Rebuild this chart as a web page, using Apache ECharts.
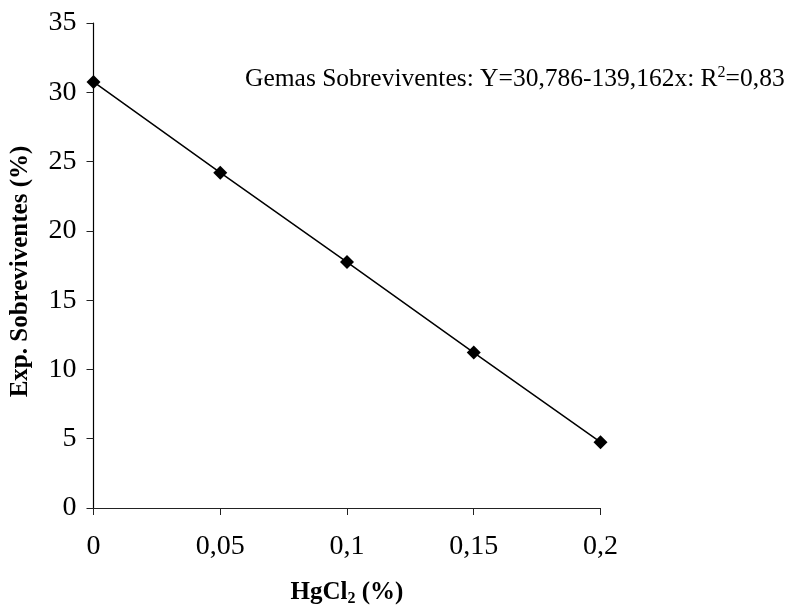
<!DOCTYPE html>
<html>
<head>
<meta charset="utf-8">
<script src="https://cdn.jsdelivr.net/npm/echarts@6/dist/echarts.min.js"></script>
<style>
  html, body { margin: 0; padding: 0; background: #fff; }
  #chart { width: 811px; height: 612px; }
</style>
</head>
<body>
<div id="chart"></div>
<script>
// HgCl2 concentration (%) and surviving explants (%)
const hgcl2 = [0, 0.05, 0.1, 0.15, 0.2];
const survivors = [30.75, 24.2, 17.75, 11.22, 4.75];
const xTicks = [0, 0.05, 0.1, 0.15, 0.2];
const yTicks = [0, 5, 10, 15, 20, 25, 30, 35];

const serif = '"Liberation Serif", "Times New Roman", serif';
const comma = v => String(v).replace('.', ',');

const chart = echarts.init(document.getElementById('chart'), null, { renderer: 'canvas' });

chart.setOption({
  backgroundColor: '#ffffff',
  animation: false,
  grid: { left: 93.5, right: 210.5, top: 23, bottom: 95, containLabel: false },
  xAxis: {
    type: 'value',
    min: xTicks[0],
    max: xTicks[xTicks.length - 1],
    interval: 0.05,
    name: '{b|HgCl}{s|2}{b| (%)}',
    nameLocation: 'middle',
    nameGap: 71,
    nameTextStyle: {
      rich: {
        b: { fontFamily: serif, fontWeight: 'bold', fontSize: 25, color: '#000' },
        s: { fontFamily: serif, fontWeight: 'bold', fontSize: 16, color: '#000', verticalAlign: 'bottom', padding: [12, 0, 0, 0] }
      }
    },
    axisLine: { lineStyle: { color: '#222', width: 1.2 } },
    axisTick: { show: true, inside: false, length: 7, lineStyle: { color: '#222' } },
    axisLabel: {
      margin: 25,
      fontFamily: serif,
      fontSize: 28,
      color: '#000',
      formatter: v => comma(+v.toFixed(2))
    },
    splitLine: { show: false }
  },
  yAxis: {
    type: 'value',
    min: yTicks[0],
    max: yTicks[yTicks.length - 1],
    interval: 5,
    name: 'Exp. Sobreviventes (%)',
    nameLocation: 'middle',
    nameGap: 60,
    nameRotate: 90,
    nameTextStyle: { fontFamily: serif, fontWeight: 'bold', fontSize: 25, color: '#000', padding: [0, 12, 0, 0] },
    axisLine: { show: true, lineStyle: { color: '#000', width: 1.2 } },
    axisTick: { show: true, inside: false, length: 7, lineStyle: { color: '#222' } },
    axisLabel: { margin: 17, fontFamily: serif, fontSize: 28, color: '#000' },
    splitLine: { show: false }
  },
  graphic: [{
    type: 'text',
    left: 245,
    top: 65,
    style: {
      text: '{t|Gemas Sobreviventes: Y=30,786-139,162x: R}{sup|2}{t|=0,83}',
      rich: {
        t: { fontFamily: serif, fontSize: 25.5, fill: '#000' },
        sup: { fontFamily: serif, fontSize: 16, fill: '#000', padding: [0, 0, 13, 0] }
      }
    }
  }],
  series: [{
    type: 'line',
    data: hgcl2.map((x, i) => [x, survivors[i]]),
    symbol: 'diamond',
    symbolSize: 14,
    lineStyle: { color: '#000', width: 1.5 },
    itemStyle: { color: '#000' }
  }]
});
</script>
</body>
</html>
